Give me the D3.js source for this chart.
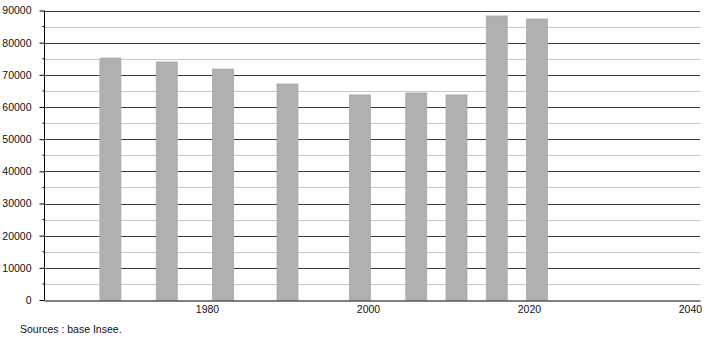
<!DOCTYPE html>
<html>
<head>
<meta charset="utf-8">
<script src="https://cdn.jsdelivr.net/npm/d3@7/dist/d3.min.js"></script>
<style>
  html, body { margin: 0; padding: 0; background: #fff; }
  svg { display: block; font-family: 'Liberation Sans', Arial, sans-serif; }
</style>
</head>
<body>
<svg id="chart" width="710" height="340"></svg>
<script>
'use strict';

// Census years and population values.
var years = [1968, 1975, 1982, 1990, 1999, 2006, 2011, 2016, 2021];
var population = [75200, 74000, 71800, 67150, 63750, 64350, 63750, 88300, 87350];
var xTicks = [1980, 2000, 2020, 2040];
var yTicks = [0, 10000, 20000, 30000, 40000, 50000, 60000, 70000, 80000, 90000];
var source = 'Sources : base Insee.';

var cfg = {
  left: 44,
  right: 700,
  top: 10.5,
  bottom: 300,
  barWidth: 21,
  barFill: '#b0b0b0',
  barStroke: '#a9a9a9',
  fontSize: '10.5px'
};

var svg = d3.select('#chart');

var x = d3.scaleLinear()
  .domain([1959.75, 2041.25])
  .range([cfg.left, cfg.right]);

var y = d3.scaleLinear()
  .domain([0, 90000])
  .range([cfg.bottom, cfg.top]);

// minor grid every 5000, major every 10000
var minor = d3.range(5000, 90000, 10000);

svg.append('g').attr('class', 'grid-minor')
  .selectAll('line')
  .data(minor)
  .join('line')
  .attr('x1', cfg.left)
  .attr('x2', cfg.right)
  .attr('y1', function(d) { return Math.round(y(d)) + 0.5; })
  .attr('y2', function(d) { return Math.round(y(d)) + 0.5; })
  .attr('stroke', '#c8c8c8')
  .attr('stroke-width', 1);

svg.append('g').attr('class', 'grid-major')
  .selectAll('line')
  .data(yTicks.slice(1))
  .join('line')
  .attr('x1', cfg.left)
  .attr('x2', cfg.right)
  .attr('y1', function(d) { return Math.round(y(d)) + 0.5; })
  .attr('y2', function(d) { return Math.round(y(d)) + 0.5; })
  .attr('stroke', '#3a3a3a')
  .attr('stroke-width', 1);

// bars
svg.append('g').attr('class', 'bars')
  .selectAll('rect')
  .data(years)
  .join('rect')
  .attr('x', function(d) { return x(d) - cfg.barWidth / 2; })
  .attr('y', function(d, i) { return y(population[i]); })
  .attr('width', cfg.barWidth)
  .attr('height', function(d, i) { return y(0) - y(population[i]); })
  .attr('fill', cfg.barFill)
  .attr('stroke', cfg.barStroke)
  .attr('stroke-width', 0.8);

// y axis: major ticks labelled, minor ticks short
var yAxis = svg.append('g')
  .attr('class', 'y-axis')
  .attr('transform', 'translate(' + (cfg.left + 0.5) + ',0)')
  .call(d3.axisLeft(y)
    .tickValues(yTicks)
    .tickSize(5)
    .tickPadding(8)
    .tickFormat(d3.format('d')));

yAxis.selectAll('.tick line').attr('stroke', '#000');
yAxis.select('.domain').attr('stroke', '#000').attr('d', 'M0,' + y(90000) + 'V' + y(0));
yAxis.selectAll('text')
  .attr('fill', '#111')
  .style('font-family', 'Liberation Sans, Arial, sans-serif')
  .style('font-size', cfg.fontSize);

yAxis.selectAll('.minor')
  .data(minor)
  .join('line')
  .attr('class', 'minor')
  .attr('x1', -2)
  .attr('x2', 0)
  .attr('y1', function(d) { return y(d); })
  .attr('y2', function(d) { return y(d); })
  .attr('stroke', '#000');

// x axis: no tick marks, only labels
var xAxis = svg.append('g')
  .attr('class', 'x-axis')
  .attr('transform', 'translate(0,' + (cfg.bottom + 0.5) + ')')
  .call(d3.axisBottom(x)
    .tickValues(xTicks)
    .tickSize(0)
    .tickPadding(5)
    .tickFormat(d3.format('d')));

xAxis.select('.domain').attr('stroke', '#000').attr('stroke-width', 1.2);
xAxis.selectAll('text')
  .attr('fill', '#111')
  .style('font-family', 'Liberation Sans, Arial, sans-serif')
  .style('font-size', cfg.fontSize);

svg.append('text')
  .attr('x', 20)
  .attr('y', 333)
  .attr('fill', '#111')
  .style('font-size', cfg.fontSize)
  .text(source);
</script>
</body>
</html>
